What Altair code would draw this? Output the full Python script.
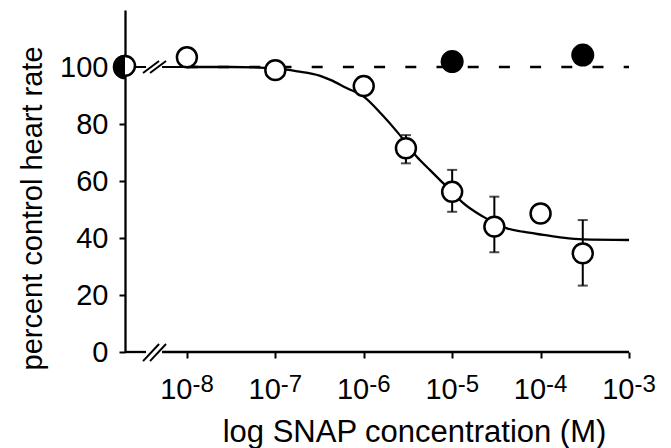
import math
import numpy as np
import pandas as pd
import altair as alt

FONT = "Liberation Sans"

# ---- data ----
snap_conc = [1e-8, 1e-7, 1e-6, 3e-6, 1e-5, 3e-5, 1e-4, 3e-4]
snap_rate = [103.4, 98.9, 93.3, 71.5, 56.2, 44.0, 48.6, 34.6]

err_conc = [3e-6, 1e-5, 3e-5, 3e-4]
err_high = [76.1, 63.9, 54.5, 46.3]
err_low = [66.2, 49.2, 35.0, 23.3]

filled_conc = [1e-5, 3e-4]
filled_rate = [101.9, 104.2]

control_pos = [-8.7]          # control sits on the axis, left of the break
control_open = [100.4]
control_filled = [100.0]

fit_log = [-8.0, -7.5, -7.0, -6.75, -6.5, -6.37, -6.2, -6.0, -5.8, -5.61, -5.4,
           -5.25, -5.12, -5.0, -4.89, -4.65, -4.38, -4.2, -3.97, -3.75, -3.52, -3.0]
fit_rate = [100.0, 100.0, 99.5, 98.5, 97.0, 95.4, 92.7, 89.6, 83.5, 76.8, 68.5,
            63.8, 59.8, 56.2, 52.7, 47.5, 43.4, 42.2, 41.1, 40.1, 39.5, 39.3]

ref_level = [100.0]
ref_span = [-8.0, -3.0]

tick_exp = [-8, -7, -6, -5, -4, -3]
y_ticks = [0, 20, 40, 60, 80, 100]

# axis break (in axis units)
break_gap = [-8.462, -8.281]
slash_x0 = [-8.496, -8.417]
slash_x1 = [-8.315, -8.236]

# ---- tables ----
pts = pd.DataFrame({"lx": np.log10(snap_conc), "rate": snap_rate})
eb = pd.DataFrame({"lx": np.log10(err_conc), "rate": err_low, "rate2": err_high})
cap = pd.DataFrame({"lx": list(np.log10(err_conc)) * 2, "rate": err_low + err_high})
filled = pd.DataFrame({"lx": np.log10(filled_conc), "rate": filled_rate})
ctrl_o = pd.DataFrame({"lx": control_pos, "rate": control_open})
ctrl_f = pd.DataFrame({"lx": control_pos, "rate": control_filled})
fit = pd.DataFrame({"lx": fit_log, "rate": fit_rate})
dashed = pd.DataFrame({"lx": [ref_span[0]], "lx2": [ref_span[1]], "rate": ref_level})
xline = pd.DataFrame({"lx": [control_pos[0], break_gap[1]],
                      "lx2": [break_gap[0], ref_span[1]], "rate": [0, 0]})
ctrl_seg = pd.DataFrame({"lx": [control_pos[0], break_gap[1]],
                         "lx2": [break_gap[0], ref_span[0]], "rate": [100, 100]})
slashes = pd.DataFrame({
    "lx": slash_x0 * 2, "lx2": slash_x1 * 2,
    "rate": [-3.2, -3.2, 97.9, 97.9], "rate2": [2.8, 2.8, 102.1, 102.1]})
labels = pd.DataFrame({"lx": tick_exp, "rate": [0] * len(tick_exp),
                       "base": ["10"] * len(tick_exp),
                       "exp": [str(e) for e in tick_exp]})

# ---- scales / axes ----
xs = alt.Scale(domain=[-8.7, -3], nice=False, zero=False)
ys = alt.Scale(domain=[0, 120], nice=False, zero=False)

xaxis = alt.Axis(values=tick_exp, labels=False, domain=False, grid=False,
                 ticks=True, tickSize=6, tickWidth=2, tickColor="black",
                 title="log SNAP concentration (M)", titleFont=FONT,
                 titleFontSize=31, titleFontWeight="normal", titleColor="black",
                 titleX=289, titleY=89, titleAlign="center",
                 titleBaseline="alphabetic")
yaxis = alt.Axis(values=y_ticks, domain=True, domainColor="black",
                 domainWidth=2.3, grid=False, ticks=True, tickSize=6,
                 tickWidth=2, tickColor="black", labelFont=FONT,
                 labelFontSize=29, labelColor="black", labelPadding=11,
                 title="percent control heart rate", titleFont=FONT,
                 titleFontSize=29, titleFontWeight="normal", titleColor="black",
                 titleAngle=-90, titleX=-93, titleY=198, titleAlign="center",
                 titleBaseline="middle")

X = alt.X("lx:Q", scale=xs, axis=xaxis)
Y = alt.Y("rate:Q", scale=ys, axis=yaxis)

base_axes = alt.Chart(pts).mark_point(opacity=0).encode(x=X, y=Y)

dash_layer = alt.Chart(dashed).mark_rule(
    color="black", strokeWidth=2.5, strokeDash=[11, 20.2]).encode(
    x=X, x2="lx2:Q", y=Y)

xline_layer = alt.Chart(xline).mark_rule(color="black", strokeWidth=2.3).encode(
    x=X, x2="lx2:Q", y=Y)

ctrl_seg_layer = alt.Chart(ctrl_seg).mark_rule(color="black", strokeWidth=2).encode(
    x=X, x2="lx2:Q", y=Y)

slash_layer = alt.Chart(slashes).mark_rule(color="black", strokeWidth=2).encode(
    x=X, x2="lx2:Q", y=Y, y2="rate2:Q")

fit_layer = alt.Chart(fit).mark_line(
    color="black", strokeWidth=2.3, interpolate="monotone").encode(x=X, y=Y)

eb_layer = alt.Chart(eb).mark_rule(color="black", strokeWidth=2).encode(
    x=X, y=Y, y2="rate2:Q")
cap_layer = alt.Chart(cap).mark_tick(
    color="black", orient="horizontal", size=10, thickness=2).encode(x=X, y=Y)

open_layer = alt.Chart(pts).mark_point(
    shape="circle", size=398, filled=False, fill="white", fillOpacity=1,
    stroke="black", strokeWidth=2.5, opacity=1).encode(x=X, y=Y)

filled_layer = alt.Chart(filled).mark_point(
    shape="circle", size=530, filled=True, color="black", opacity=1).encode(x=X, y=Y)

ctrl_open_layer = alt.Chart(ctrl_o).mark_point(
    shape="circle", size=398, filled=False, fill="white", fillOpacity=1,
    stroke="black", strokeWidth=2.5, opacity=1).encode(x=X, y=Y)

ctrl_fill_layer = alt.Chart(ctrl_f).mark_arc(
    radius=12.3, theta=math.pi, theta2=2 * math.pi, color="black").encode(x=X, y=Y)

label_base = alt.Chart(labels).mark_text(
    align="right", baseline="alphabetic", dx=5.5, dy=47, font=FONT,
    fontSize=29, color="black").encode(x=X, y=Y, text="base:N")
label_exp = alt.Chart(labels).mark_text(
    align="left", baseline="alphabetic", dx=5.5, dy=40, font=FONT,
    fontSize=24, color="black").encode(x=X, y=Y, text="exp:N")

chart = alt.layer(
    base_axes, dash_layer, xline_layer, ctrl_seg_layer, slash_layer, fit_layer,
    eb_layer, cap_layer, open_layer, filled_layer, ctrl_open_layer,
    ctrl_fill_layer, label_base, label_exp
).properties(
    width=504, height=342,
    autosize=alt.AutoSizeParams(type="none"),
    padding={"left": 117, "top": 2, "right": 34, "bottom": 96},
    background="white",
).configure_view(stroke=None)

chart.save("out.html", embed_options={"renderer": "svg", "actions": False})
